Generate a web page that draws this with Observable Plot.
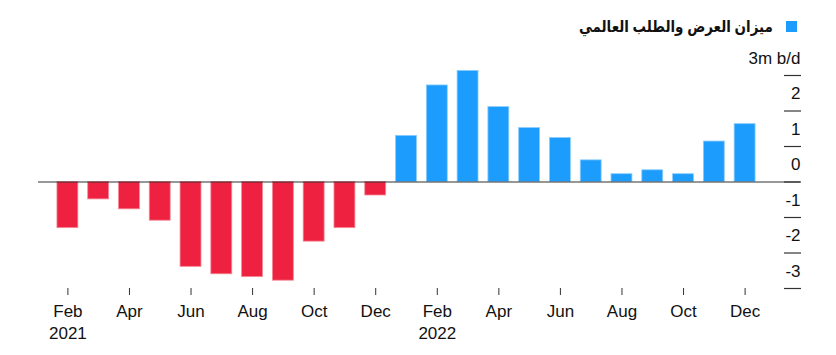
<!DOCTYPE html>
<html>
<head>
<meta charset="utf-8">
<script src="https://cdn.jsdelivr.net/npm/d3@7"></script>
<script src="https://cdn.jsdelivr.net/npm/@observablehq/plot@0.6"></script>
<style>
  html, body { margin: 0; padding: 0; background: #fff; }
  #wrap { position: relative; width: 836px; height: 355px; }
  #legend { position: absolute; top: 0; left: 0; width: 836px; height: 53px; display: flex; align-items: center; justify-content: flex-end; box-sizing: border-box; padding-right: 39px; font-family: "Liberation Sans", "DejaVu Sans", Arial, sans-serif; font-weight: bold; font-size: 16px; color: #111; }
  #legend .sw { width: 11px; height: 11px; background: #1c9dfd; margin-left: 13px; }
  #legend .lt { direction: rtl; display: inline-block; transform: scaleX(0.84); transform-origin: right center; }
</style>
</head>
<body>
<div id="wrap">
  <div id="chart"></div>
  <div id="legend"><span class="lt">ميزان العرض والطلب العالمي</span><span class="sw"></span></div>
</div>
<script>
const months = ["2021-02","2021-03","2021-04","2021-05","2021-06","2021-07","2021-08","2021-09","2021-10","2021-11","2021-12",
                "2022-01","2022-02","2022-03","2022-04","2022-05","2022-06","2022-07","2022-08","2022-09","2022-10","2022-11","2022-12"];
const balance = [-1.30, -0.49, -0.77, -1.09, -2.39, -2.60, -2.68, -2.78, -1.68, -1.30, -0.38,
                 1.30, 2.72, 3.13, 2.11, 1.52, 1.24, 0.61, 0.22, 0.33, 0.22, 1.14, 1.63];
const xTicks = ["2021-02","2021-04","2021-06","2021-08","2021-10","2021-12","2022-02","2022-04","2022-06","2022-08","2022-10","2022-12"];
const xTickLabels = ["Feb\n2021","Apr","Jun","Aug","Oct","Dec","Feb\n2022","Apr","Jun","Aug","Oct","Dec"];
const yTicks = [-3, -2, -1, 0, 1, 2, 3];
const yTickLabels = ["-3", "-2", "-1", "0", "1", "2", "3m b/d"];

const data = months.map((m, i) => ({month: m, value: balance[i]}));
const RED = "#ee2240", BLUE = "#1c9dfd";

const chart = Plot.plot({
  width: 836,
  height: 355,
  marginLeft: 38,
  marginRight: 53,
  marginTop: 75,
  marginBottom: 67,
  style: {fontFamily: "'Liberation Sans', Arial, sans-serif", fontSize: "17px", color: "#111", background: "#fff"},
  x: {type: "band", domain: months, range: [52, 760], paddingInner: 0.32, paddingOuter: 0.16, round: false},
  y: {domain: [-3, 3]},
  marks: [
    Plot.barY(data.filter(d => d.value < 0), {x: "month", y: "value", fill: RED, stroke: "#f58a98", strokeWidth: 0.8}),
    Plot.barY(data.filter(d => d.value >= 0), {x: "month", y: "value", fill: BLUE, stroke: "#8fcdfd", strokeWidth: 0.8}),
    Plot.ruleY([0], {stroke: "#333", strokeWidth: 1.2, insetRight: -17}),
    Plot.axisX({ticks: xTicks, tickSize: 7, tickPadding: 6, stroke: "#333",
      tickFormat: d => xTickLabels[xTicks.indexOf(d)], lineHeight: 1.3, label: null, fontSize: 17}),
    Plot.axisY({anchor: "right", ticks: yTicks, tickSize: 17, fill: "none", stroke: "#333", strokeWidth: 1.2, label: null}),
    Plot.axisY({anchor: "right", ticks: yTicks, tickSize: 0, tickPadding: 17, textAnchor: "end", dy: -17, stroke: "none",
      tickFormat: d => yTickLabels[yTicks.indexOf(d)], label: null, fontSize: 17})
  ]
});
document.getElementById("chart").appendChild(chart);
</script>
</body>
</html>
